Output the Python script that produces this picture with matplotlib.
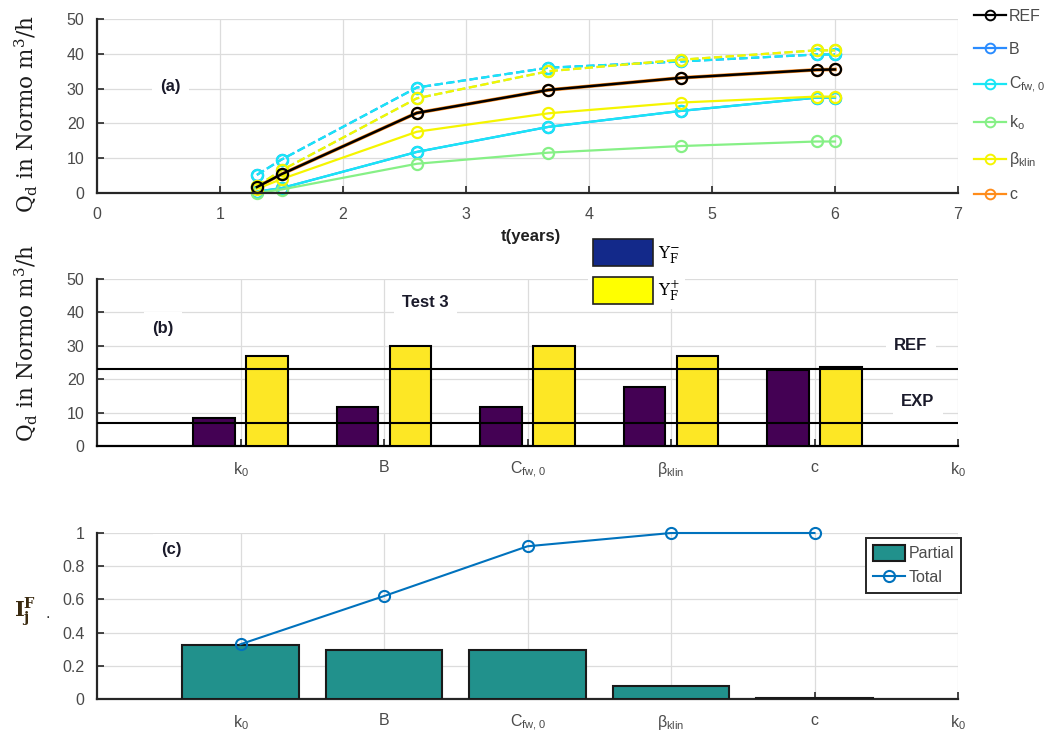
import numpy as np
import matplotlib.pyplot as plt
from matplotlib.patches import Patch
from matplotlib.lines import Line2D

plt.rcParams['font.family'] = ['Liberation Sans', 'DejaVu Sans']
plt.rcParams['mathtext.fontset'] = 'dejavusans'

# panel (a): Q_d over time, solid = minus, dashed = plus
t = [1.3, 1.5, 2.6, 3.67, 4.75, 5.85, 6.0]
q_ref = [1.7, 5.4, 23.0, 29.6, 33.1, 35.4, 35.5]
q_c = [1.7, 5.4, 23.0, 29.6, 33.1, 35.4, 35.5]
q_b_minus = [0.4, 1.4, 11.8, 19.0, 23.6, 27.4, 27.4]
q_b_plus = [5.2, 9.6, 30.3, 36.0, 37.8, 39.8, 39.8]
q_cfw_minus = [0.4, 1.4, 11.8, 19.0, 23.6, 27.4, 27.4]
q_cfw_plus = [5.2, 9.6, 30.3, 36.0, 37.8, 39.8, 39.8]
q_k0_minus = [0.0, 1.0, 8.4, 11.6, 13.5, 14.8, 14.8]
q_k0_plus = [2.0, 6.5, 27.2, 35.0, 38.3, 41.0, 41.0]
q_beta_minus = [1.2, 4.0, 17.6, 22.9, 26.0, 27.7, 27.7]
q_beta_plus = [2.0, 6.5, 27.2, 35.0, 38.3, 41.0, 41.0]

# panel (b): Test 3
params = [r'k$_\mathregular{0}$', 'B', r'C$_\mathregular{fw,0}$', r'β$_\mathregular{klin}$', 'c', r'k$_\mathregular{0}$']
y_minus = [8.5, 11.7, 11.7, 17.6, 22.8]
y_plus = [27.0, 30.0, 30.0, 27.0, 23.6]
ref_level = 23.0
exp_level = 6.8

# panel (c)
partial = [0.325, 0.297, 0.297, 0.08, 0.005]
total = [0.33, 0.62, 0.92, 1.0, 1.0]

W, H = 1052, 740
fig = plt.figure(figsize=(W / 100, H / 100), dpi=100)

def box(l, t_, r, b):
    return [l / W, 1 - b / H, (r - l) / W, (b - t_) / H]

tick_col = '#4a4a4a'
spine_col = '#262626'

def style(ax):
    for s in ['top', 'right']:
        ax.spines[s].set_visible(False)
    for s in ['left', 'bottom']:
        ax.spines[s].set_color(spine_col)
        ax.spines[s].set_linewidth(1.6)
    ax.grid(True, color='#dcdcdc', lw=0.9)
    ax.set_axisbelow(True)
    ax.tick_params(direction='in', length=5, width=1.2, colors=spine_col,
                   labelcolor=tick_col, labelsize=11.5)
    ax.tick_params(axis='x', pad=10)
    ax.tick_params(axis='y', pad=9)

label_kw = dict(fontsize=12, fontweight='bold', color='#1a1a2a',
                bbox=dict(facecolor='white', edgecolor='none', pad=6))

# ---- (a)
ax1 = fig.add_axes(box(97, 19, 958, 193))
style(ax1)
c_ref, c_b, c_cfw, c_k0, c_beta, c_c = 'black', '#2a8cff', '#19e6f5', '#86f086', '#f5f500', '#ff8c1a'
mk = dict(marker='o', mfc='none', ms=8, mew=1.6, clip_on=False)
ax1.plot(t, q_c, color=c_c, lw=2.6, **mk)
ax1.plot(t, q_b_minus, color=c_b, lw=1.6, **mk)
ax1.plot(t, q_b_plus, color=c_b, lw=1.6, ls='--', **mk)
ax1.plot(t, q_cfw_minus, color=c_cfw, lw=1.6, **mk)
ax1.plot(t, q_cfw_plus, color=c_cfw, lw=1.6, ls='--', **mk)
ax1.plot(t, q_k0_minus, color=c_k0, lw=1.6, **mk)
ax1.plot(t, q_k0_plus, color=c_k0, lw=1.6, ls='--', **mk)
ax1.plot(t, q_beta_minus, color=c_beta, lw=1.6, **mk)
ax1.plot(t, q_beta_plus, color=c_beta, lw=1.6, ls='--', **mk)
ax1.plot(t, q_ref, color=c_ref, lw=1.8, **mk)
ax1.set_xlim(0, 7)
ax1.set_ylim(0, 50)
ax1.set_xticks(range(8))
ax1.set_yticks(range(0, 51, 10))
ax1.text(0.6, 30.5, '(a)', ha='center', va='center', **label_kw)

leg_names = ['REF', 'B', r'C$_\mathregular{fw,0}$', r'k$_\mathregular{o}$', r'β$_\mathregular{klin}$', 'c']
leg_cols = [c_ref, c_b, c_cfw, c_k0, c_beta, c_c]
handles = [Line2D([], [], color=c, lw=1.6, marker='o', mfc='none', ms=7, mew=1.4) for c in leg_cols]
leg = fig.legend(handles, leg_names, loc='upper left', bbox_to_anchor=(974 / W, 1 - 9 / H),
                 frameon=False, fontsize=11.5, handlelength=2.0, handletextpad=0.2,
                 labelspacing=1.13, borderpad=0, borderaxespad=0)
for tx in leg.get_texts():
    tx.set_color(tick_col)

fig.text(531 / W, 1 - 237 / H, 't(years)', ha='center', va='center',
         fontsize=12, fontweight='bold', color='#202020')

ylab = r'Q$_\mathregular{d}$ in Normo m$^\mathregular{3}$/h'
fig.text(26 / W, 1 - 114 / H, ylab, rotation=90, ha='center', va='center',
         fontsize=15.5, family='DejaVu Serif', color='#1a1a1a')

# ---- (b)
ax2 = fig.add_axes(box(97, 279, 958, 446))
style(ax2)
x = np.arange(1, 6)
bw = 0.29
ax2.bar(x - 0.185, y_minus, bw, color='#440154', edgecolor='black', lw=1.5, zorder=3)
ax2.bar(x + 0.185, y_plus, bw, color='#fde725', edgecolor='black', lw=1.5, zorder=3)
ax2.axhline(ref_level, color='black', lw=1.5, zorder=4)
ax2.axhline(exp_level, color='black', lw=1.5, zorder=4)
ax2.set_xlim(0, 6)
ax2.set_ylim(0, 50)
ax2.set_xticks(range(1, 7))
ax2.set_xticklabels(params)
ax2.set_yticks(range(0, 51, 10))
ax2.spines['bottom'].set_color('black')
ax2.text(0.46, 35.3, '(b)', ha='center', va='center', **label_kw)
ax2.text(2.29, 43.0, 'Test 3', ha='center', va='center', **label_kw)
ax2.text(5.67, 30.0, 'REF', ha='center', va='center', **label_kw)
ax2.text(5.72, 13.2, 'EXP', ha='center', va='center', **label_kw)
fig.text(26 / W, 1 - 343 / H, ylab, rotation=90, ha='center', va='center',
         fontsize=15.5, family='DejaVu Serif', color='#1a1a1a')

bh = [Patch(facecolor='#13298a', edgecolor='#202020', lw=1.2),
      Patch(facecolor='#ffff00', edgecolor='#202020', lw=1.2)]
bleg = fig.legend(bh, [r'Y$_\mathregular{F}^\mathregular{-}$', r'Y$_\mathregular{F}^\mathregular{+}$'],
                  loc='upper left', bbox_to_anchor=(588 / W, 1 - 234 / H),
                  prop={'family': 'DejaVu Serif', 'size': 12},
                  handlelength=3.6, handleheight=2.1, labelspacing=0.65, handletextpad=0.3,
                  borderpad=0.3, borderaxespad=0, frameon=True, fancybox=False)
bleg.get_frame().set_edgecolor('none')
bleg.get_frame().set_facecolor('white')
bleg.get_frame().set_alpha(1)

# ---- (c)
ax3 = fig.add_axes(box(97, 533, 958, 699))
style(ax3)
bars = ax3.bar(x, partial, 0.81, color='#21918c', edgecolor='#1a1a1a', lw=1.5, zorder=3)
line, = ax3.plot(x, total, color='#0072BD', lw=1.5, marker='o', mfc='none', ms=8, mew=1.5,
                 zorder=4, clip_on=False)
ax3.set_xlim(0, 6)
ax3.set_ylim(0, 1)
ax3.set_xticks(range(1, 7))
ax3.set_xticklabels(params)
ax3.set_yticks([0, 0.2, 0.4, 0.6, 0.8, 1])
ax3.set_yticklabels(['0', '0.2', '0.4', '0.6', '0.8', '1'])
ax3.text(0.52, 0.9, '(c)', ha='center', va='center', **label_kw)
cleg = ax3.legend([bars, line], ['Partial', 'Total'], loc='upper right',
                  bbox_to_anchor=(961 / W, 1 - 538 / H), bbox_transform=fig.transFigure,
                  fontsize=11.5, handlelength=2.0, handleheight=1.1, handletextpad=0.2,
                  borderpad=0.45, labelspacing=0.5, fancybox=False, borderaxespad=0)
cleg.get_frame().set_edgecolor('#262626')
cleg.get_frame().set_linewidth(1.4)
cleg.get_frame().set_alpha(1)
for tx in cleg.get_texts():
    tx.set_color(tick_col)

fig.text(25 / W, 1 - 612 / H, r'I$_\mathregular{j}^\mathregular{F}$', ha='center', va='center',
         fontsize=15, family='DejaVu Serif', fontweight='bold', color='#3a2a10')
fig.text(48 / W, 1 - 613 / H, '.', ha='center', va='center', fontsize=12, color='#333333')

fig.savefig('out.png', dpi=100)
